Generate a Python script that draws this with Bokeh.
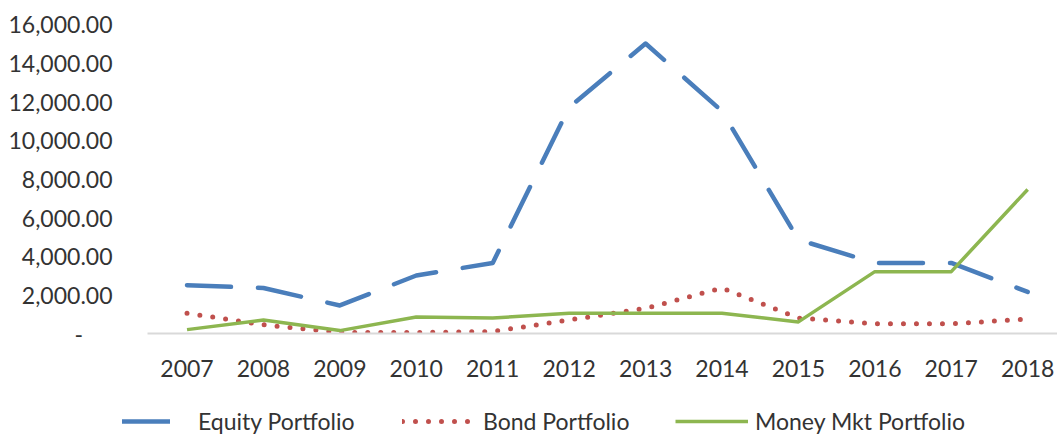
from bokeh.plotting import figure
from bokeh.layouts import column
from bokeh.models import (FixedTicker, CustomJSTickFormatter, Range1d, Legend, LegendItem)
from bokeh.embed import file_html
from bokeh.resources import INLINE

years = [2007, 2008, 2009, 2010, 2011, 2012, 2013, 2014, 2015, 2016, 2017, 2018]
equity = [2500, 2350, 1450, 3000, 3650, 11700, 15000, 11500, 4850, 3650, 3650, 2150]
bond = [1050, 450, 50, 50, 100, 700, 1300, 2350, 800, 500, 500, 750]
money = [200, 700, 150, 850, 800, 1050, 1050, 1050, 600, 3200, 3200, 7450]
y_ticks = [0, 2000, 4000, 6000, 8000, 10000, 12000, 14000, 16000]

FONT = "Lato"
TXT = "#333333"
FS = "23px"

EQ = dict(line_color="#4A7EBB", line_width=4.5, line_dash="44 27", line_cap="round", line_join="round")
BD = dict(line_color="#C0504D", line_width=5, line_dash="0 13", line_cap="round", line_join="round")
MM = dict(line_color="#8DB650", line_width=3.5, line_join="round")

p = figure(width=1057, height=408, output_backend="svg", toolbar_location=None,
           x_range=Range1d(2006.483, 2018.39), y_range=Range1d(0, 16500),
           min_border_left=147, min_border_top=14, min_border_right=0, min_border_bottom=75,
           outline_line_color=None)
p.frame_align = False
p.grid.visible = False

p.line(years, equity, **EQ)
p.line(years, bond, **BD)
p.line(years, money, **MM)

ya = p.yaxis[0]
ya.ticker = FixedTicker(ticks=y_ticks)
ya.formatter = CustomJSTickFormatter(code="""
if (tick == 0) { return '-\u00a0\u00a0\u00a0\u00a0\u00a0'; }
return tick.toLocaleString('en-US', {minimumFractionDigits: 2, maximumFractionDigits: 2});
""")
ya.axis_line_color = None
ya.major_tick_line_color = None
ya.minor_tick_line_color = None
ya.major_label_standoff = 29
ya.major_label_text_font = FONT
ya.major_label_text_font_size = FS
ya.major_label_text_color = TXT

xa = p.xaxis[0]
xa.ticker = FixedTicker(ticks=years)
xa.axis_line_color = "#D9D9D9"
xa.axis_line_width = 2
xa.major_tick_line_color = None
xa.minor_tick_line_color = None
xa.major_label_standoff = 20
xa.major_label_text_font = FONT
xa.major_label_text_font_size = FS
xa.major_label_text_color = TXT

# legend strip (its own small figure; the sample lines lie outside its ranges)
p2 = figure(width=1057, height=27, output_backend="svg", toolbar_location=None,
            x_axis_type=None, y_axis_type=None, outline_line_color=None,
            min_border_left=0, min_border_right=0, min_border_top=0, min_border_bottom=0,
            x_range=Range1d(0, 1), y_range=Range1d(0, 1))
p2.frame_align = False
p2.grid.visible = False
l_eq = p2.line([-5, -4], [-5, -4], line_color="#4A7EBB", line_width=4.5, line_cap="round")
l_bd = p2.line([-5, -4], [-5, -4], **BD)
l_mm = p2.line([-5, -4], [-5, -4], **MM)

def make_legend(label, r, x, gw, standoff):
    lg = Legend(items=[LegendItem(label=label, renderers=[r])],
                location=(x, 0), orientation="horizontal",
                label_text_font=FONT, label_text_font_size=FS, label_text_color=TXT,
                glyph_width=gw, glyph_height=20, label_height=20, label_standoff=standoff,
                border_line_color=None, background_fill_alpha=0, padding=0, margin=0)
    p2.add_layout(lg, "center")

make_legend("Equity Portfolio", l_eq, 122, 48, 28)
make_legend("Bond Portfolio", l_bd, 402, 71, 10)
make_legend("Money Mkt Portfolio", l_mm, 675, 73, 7)

open("out.html", "w").write(file_html(column(p, p2, spacing=0), INLINE))
